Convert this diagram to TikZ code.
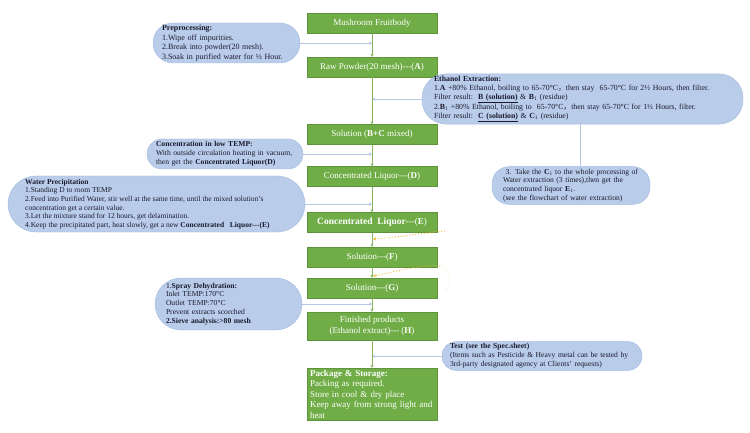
\documentclass[tikz,border=0pt]{standalone}
\usepackage{fontspec}
\setmainfont{Liberation Serif}
\newfontfamily\cjk{Noto Sans CJK SC}
\usetikzlibrary{arrows.meta}
\definecolor{gbox}{HTML}{70AD47}
\definecolor{gline}{HTML}{84B55E}
\definecolor{cfill}{HTML}{B9CCE9}
\definecolor{cdraw}{HTML}{A3BADF}
\definecolor{sline}{HTML}{B4C6E6}
\definecolor{ctext}{HTML}{1A1A2E}
\definecolor{ydot}{HTML}{EDB62E}
\newcommand\hy{-{}-{}-}
\newcommand\fwc{{\cjk ，}}
\begin{document}
\begin{tikzpicture}[x=1pt,y=-1pt,
 mainbox/.style={draw=gbox!85!black, line width=0.4pt, fill=gbox, text=white, minimum width=130, minimum height=20, inner sep=1pt, font=\fontsize{9}{10.5}\selectfont, align=center},
 callout/.style={draw=cdraw, fill=cfill, text=ctext, align=left, font=\fontsize{7.6}{8.9}\selectfont, inner ysep=2pt},
 flow/.style={draw=gline, line width=0.9pt, -{Stealth[length=3pt,width=3pt]}},
 side/.style={draw=sline, line width=0.9pt, -{Stealth[length=3pt,width=3pt]}},
 ydash/.style={draw=ydot, dotted, line width=0.9pt, -{Stealth[length=3pt,width=3pt]}}]
\useasboundingbox[fill=white] (0,0) rectangle (750,433);

% main column
\node[mainbox] (m1) at (372,23.5) {Mushroom Fruitbody};
\node[mainbox] (m2) at (372,67) {Raw Powder(20 mesh)\hy(\textbf{A})};
\node[mainbox] (m3) at (372,134.5) {Solution (\textbf{B+C} mixed)};
\node[mainbox] (m4) at (372,176.5) {Concentrated Liquor\hy(\textbf{D})};
\node[mainbox] (m5) at (372,222.5) {{\fontsize{9.5}{11}\selectfont\textbf{Concentrated\ \ Liquor}}\hy(\textbf{E})};
\node[mainbox] (m6) at (372,257) {Solution\hy(\textbf{F})};
\node[mainbox] (m7) at (372,288) {Solution\hy(\textbf{G})};
\node[mainbox, minimum height=28] (m8) at (372,326) {Finished products\\(Ethanol extract)\hy\ (\textbf{H})};
\node[mainbox, minimum height=52, text width=124, align=left, inner xsep=3pt] (m9) at (372,394)
 {\textbf{Package \& Storage:}\\Packing as required.\\Store in cool \& dry place\\Keep away from strong light and heat};

\draw[flow] (m1) -- (m2);
\draw[flow] (m2) -- (m3);
\draw[flow] (m3) -- (m4);
\draw[flow] (m4) -- (m5);
\draw[flow] (m5) -- (m6);
\draw[flow] (m6) -- (m7);
\draw[flow] (m7) -- (m8);
\draw[flow] (m8) -- (m9);

% junctions on main line
\coordinate (j1) at (372,43);
\coordinate (j2) at (372,99);
\coordinate (j4) at (372,154);
\coordinate (j5) at (372,204);
\coordinate (j6) at (372,304);
\coordinate (j7) at (372,356);

% callouts
\node[callout, font=\fontsize{8}{9.4}\selectfont, rounded corners=20, minimum width=147, minimum height=40, inner xsep=9, text width=129] (c1) at (226.5,43)
 {\textbf{Preprocessing:}\\1.Wipe off impurities.\\2.Break into powder(20 mesh).\\3.Soak in purified water for ½ Hour.};

\node[callout, font=\fontsize{7.8}{9}\selectfont, rounded corners=24, minimum width=321, minimum height=48, inner xsep=12, text width=297] (c2) at (582.5,99)
 {\textbf{Ethanol Extraction:}\\
 1.\textbf{A} +80\% Ethanol, boiling to 65-70°C\fwc then stay\ \ 65-70°C for 2½ Hours, then filter.\\
 Filter result:\ \ \underline{\textbf{B (solution)}}\ \& \textbf{B}\textsubscript{1} (residue)\\
 2.\textbf{B}\textsubscript{1} +80\% Ethanol, boiling to\ \ 65-70°C\fwc then stay 65-70°C for 1½ Hours, filter.\\
 Filter result:\ \ \underline{\textbf{C (solution)}}\ \& \textbf{C}\textsubscript{1} (residue)};

\node[callout, rounded corners=17, minimum width=158, minimum height=35, inner xsep=11, text width=136] (c3) at (571,185.5)
 {\ 3. Take the \textbf{C}\textsubscript{1} to the whole processing of\\Water extraction (3 times),then get the\\concentrated liquor \textbf{E}\textsubscript{1}.\\(see the flowchart of water extraction)};

\node[callout, rounded corners=15, minimum width=156, minimum height=30, inner xsep=9, text width=138] (c4) at (225,154)
 {\textbf{Concentration in low TEMP:}\\With outside circulation heating in vacuum,\\then get the \textbf{Concentrated Liquor(D)}};

\node[callout, rounded corners=28, minimum width=297, minimum height=56] (c5) at (156.5,204) {};
\node[text=ctext, align=left, font=\fontsize{7.5}{8.7}\selectfont, anchor=west, inner sep=0pt] (c5t) at (25,204)
 {\textbf{Water Precipitation}\\
 1.Standing D to room TEMP\\
 2.Feed into Purified Water, stir well at the same time, until the mixed solution's\\
 concentration get a certain value.\\
 3.Let the mixture stand for 12 hours, get delamination.\\
 4.Keep the precipitated part, heat slowly, get a new \textbf{Concentrated\ \ \ Liquor\hy(E)}};

\node[callout, rounded corners=26, minimum width=147, minimum height=52, inner xsep=11, text width=125] (c6) at (228.5,304)
 {1.\textbf{Spray Dehydration:}\\Inlet TEMP:170°C\\Outlet TEMP:70°C\\Prevent extracts scorched\\\textbf{2.Sieve analysis:>80 mesh}};

\node[callout, rounded corners=14, minimum width=200, minimum height=28, inner xsep=8, text width=184] (c7) at (542,356)
 {\textbf{Test (see the Spec.sheet)}\\(Items such as Pesticide \& Heavy metal can be tested by\\3rd-party designated agency at Clients' requests)};

% side connectors
\draw[side] (c1.east) -- (j1);
\draw[side] (c2.west) -- (j2);
\draw[side] (c4.east) -- (j4);
\draw[side] (c5.east) -- (j5);
\draw[side] (c6.east) -- (j6);
\draw[side] (c7.west) -- (j7);
\coordinate (k) at (580,0);
\draw[draw=sline, line width=0.9pt] (c2.south -| k) -- (c3.north -| k);

% faint yellow dotted curves
\coordinate (y1) at (445,231);
\coordinate (e1) at (373,239);
\coordinate (y2) at (440,266);
\coordinate (e2) at (373,276);
\coordinate (y3) at (444,292);
\draw[ydash] (y1) .. controls (420,233) and (395,238) .. (e1);
\draw[ydash] (y2) .. controls (415,265) and (395,272) .. (e2);
\draw[draw=ydot!35, dotted, line width=0.7pt] (y2) .. controls (452,270) and (452,285) .. (y3);
\end{tikzpicture}
\end{document}
